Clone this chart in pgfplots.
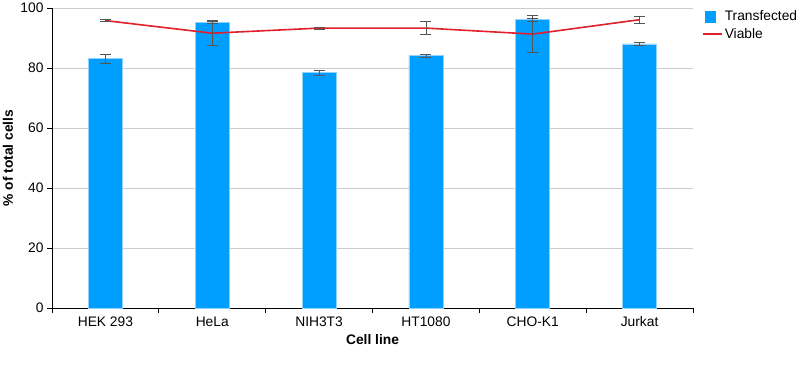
\documentclass[border=0pt]{standalone}
\usepackage{pgfplots}
\pgfplotsset{compat=1.18}
\usepackage{fontspec}
\setmainfont{Liberation Sans}
\definecolor{barblue}{HTML}{009EFF}
\definecolor{baredge}{HTML}{8FD2FF}
\definecolor{linered}{HTML}{E0202A}
\definecolor{errgray}{HTML}{555555}
\begin{document}
\begin{tikzpicture}
\useasboundingbox (-52pt,-67pt) rectangle (748pt,308pt);
\begin{axis}[
  at={(0,0)}, anchor=south west, scale only axis,
  width=641pt, height=300pt,
  xmin=-0.5, xmax=5.5, ymin=0, ymax=100,
  axis x line*=bottom, axis y line*=left,
  axis line style={black, line width=0.8pt},
  ytick={0,20,...,100}, ymajorgrids,
  grid style={black!20, line width=0.8pt},
  xtick={0,...,5},
  xticklabels={HEK 293,HeLa,NIH3T3,HT1080,CHO-K1,Jurkat},
  major x tick style={draw=none},
  minor xtick={-0.5,0.5,...,5.5},
  tick align=outside, major tick length=5pt, minor tick length=5pt,
  tick style={black, line width=0.8pt},
  /pgf/number format/assume math mode=true,
  font=\fontsize{13.8}{16}\selectfont,
  ylabel={\bfseries \% of total cells},
  ylabel style={at={(axis description cs:-0.0686,0.5)}, anchor=center},
  xlabel={\bfseries Cell line},
  xlabel style={at={(axis description cs:0.5,0)}, anchor=center, yshift=-32pt},
  legend style={at={(1.014,1.005)}, anchor=north west, draw=none, fill=none,
    font=\fontsize{13.8}{16}\selectfont, row sep=2pt, inner xsep=0pt},
  legend cell align=left,
]
\addplot[ybar, bar width=34pt, fill=barblue, draw=baredge, line width=0.6pt,
  legend image code/.code={\fill[barblue] (2pt,-5.5pt) rectangle (12pt,5.5pt);},
  error bars/.cd, y dir=both, y explicit,
  error bar style={errgray, line width=0.7pt},
  error mark options={rotate=90, mark size=5.5pt, errgray, line width=0.7pt}]
  table[x=x, y=y, y error=e] {
x y e
0 83.2 1.5
1 95.3 0.5
2 78.4 0.7
3 84.1 0.6
4 96.2 0.5
5 88.0 0.5
};
\addlegendentry{Transfected}
\addplot[linered, line width=1.6pt, no markers,
  legend image code/.code={\draw[linered, line width=1.6pt] (0pt,0pt) -- (19pt,0pt);},
  error bars/.cd, y dir=both, y explicit,
  error bar style={errgray, line width=0.7pt},
  error mark options={rotate=90, mark size=5.5pt, errgray, line width=0.7pt}]
  table[x=x, y=y, y error=e] {
x y e
0 95.8 0.3
1 91.6 3.9
2 93.3 0.3
3 93.3 2.1
4 91.3 6.1
5 96.1 1.2
};
\addlegendentry{Viable}
\end{axis}
\end{tikzpicture}
\end{document}
